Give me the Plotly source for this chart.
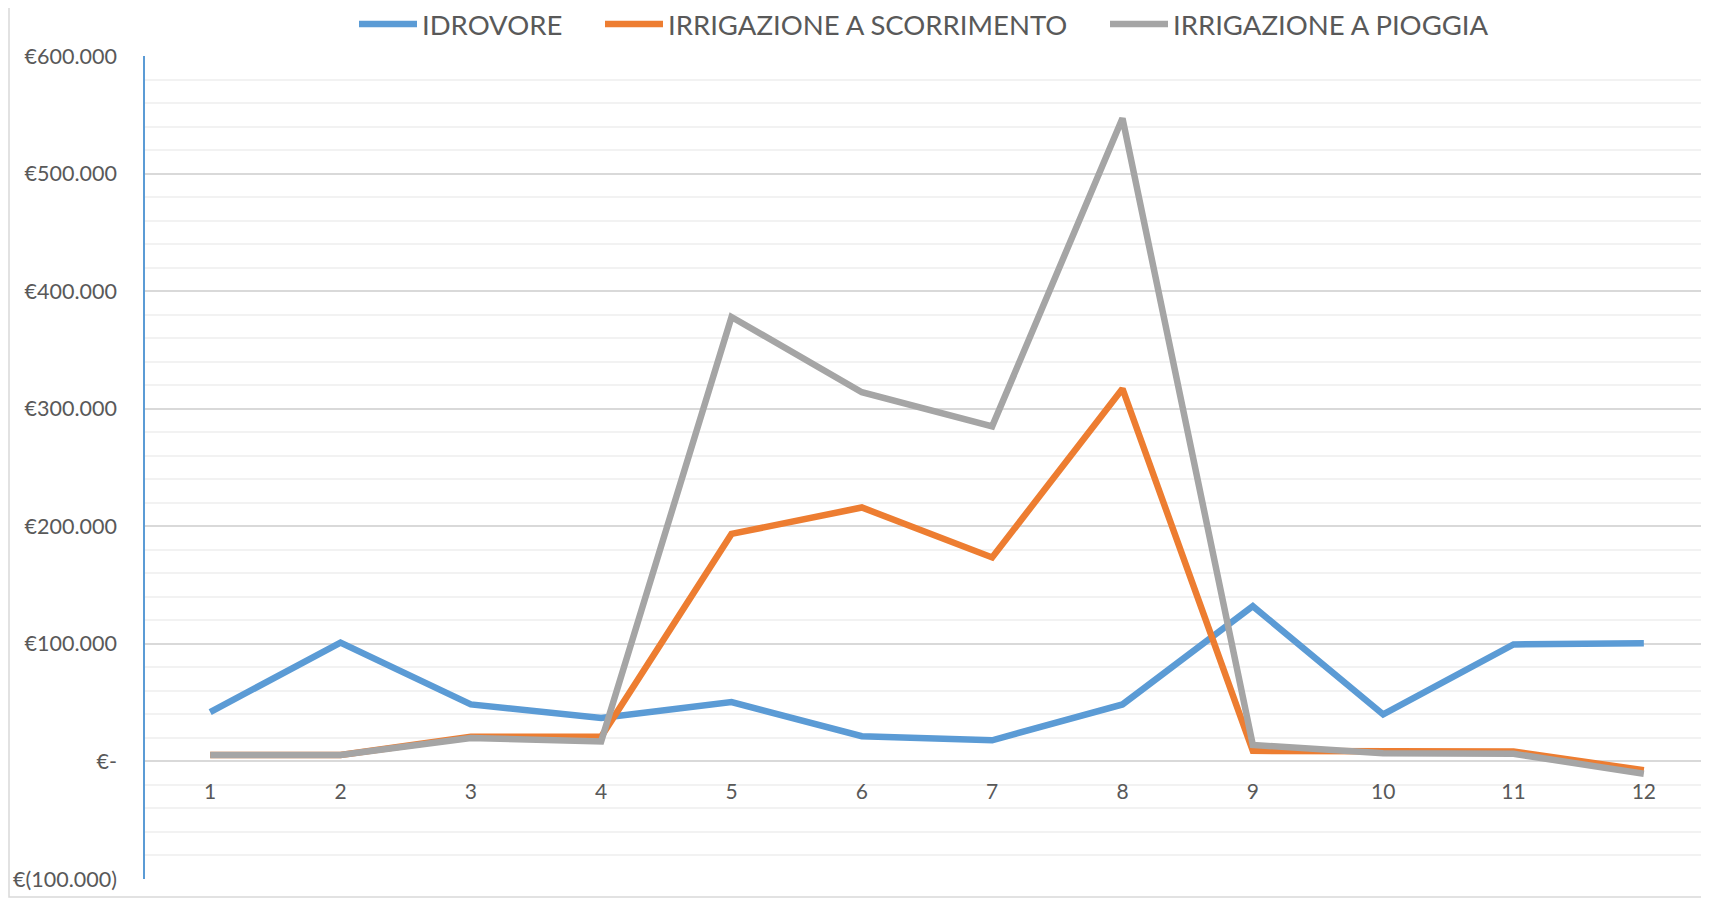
import plotly.graph_objects as go

months = [1, 2, 3, 4, 5, 6, 7, 8, 9, 10, 11, 12]
idrovore = [42000, 101000, 48500, 37000, 50500, 21500, 18000, 48500, 132000, 40000, 99500, 100500]
scorrimento = [5500, 5500, 21000, 21000, 193500, 216000, 173500, 317000, 9000, 8500, 8500, -7500]
pioggia = [5500, 5500, 20000, 17000, 378000, 314000, 285000, 547000, 14000, 7000, 6500, -10500]

series_names = ["IDROVORE", "IRRIGAZIONE A SCORRIMENTO", "IRRIGAZIONE A PIOGGIA"]
series_colors = ["#5B9BD5", "#ED7D31", "#A5A5A5"]

y_tick_vals = [-100000, 0, 100000, 200000, 300000, 400000, 500000, 600000]
y_tick_text = ["€(100.000)", "€-", "€100.000", "€200.000", "€300.000", "€400.000", "€500.000", "€600.000"]

FONT = "Lato, 'Open Sans', sans-serif"
TXT = "#595959"

# page body adds an 8px offset
OFF = 8
W, H = 1709 - OFF, 898 - OFF
L, R, T, B = 145 - OFF, 0, 56 - OFF, 19
pw, ph = W - L - R, H - T - B

legend_ids = ["legend", "legend2", "legend3"]
legend_line_start = [366, 612, 1117]  # page px where each legend sample starts

fig = go.Figure()
for name, vals, col, lid in zip(series_names, [idrovore, scorrimento, pioggia], series_colors, legend_ids):
    fig.add_trace(go.Scatter(
        x=months, y=vals, name=name, mode="lines",
        line=dict(color=col, width=6.5), legend=lid,
    ))

leg_y = 1 + (T - (24 - OFF)) / ph
legends = {}
for lid, xs in zip(legend_ids, legend_line_start):
    legends[lid] = dict(
        orientation="h", x=(xs - OFF - 12 - L) / pw, xanchor="left",
        y=leg_y, yanchor="middle",
        font=dict(size=27.5, color=TXT, family=FONT),
        itemwidth=58, bgcolor="rgba(0,0,0,0)",
    )

fig.update_layout(
    width=W, height=H,
    margin=dict(l=L, r=R, t=T, b=B, autoexpand=False),
    paper_bgcolor="white", plot_bgcolor="white",
    font=dict(family=FONT, color=TXT, size=21),
    showlegend=True,
    xaxis=dict(
        range=[0.5, 12.5], tickmode="array", tickvals=months,
        ticktext=[str(m) for m in months],
        showgrid=False, zeroline=False, showline=False, ticks="",
        anchor="free", position=1 / 7,
        tickfont=dict(size=21, color=TXT, family=FONT),
        ticklabelstandoff=16,
    ),
    yaxis=dict(
        range=[-100000, 600000], tickmode="array",
        tickvals=y_tick_vals, ticktext=y_tick_text,
        showgrid=True, gridcolor="#D9D9D9", gridwidth=1.5,
        zeroline=False, showline=True, linecolor="#5B9BD5", linewidth=1.5,
        ticks="", ticklabelstandoff=22,
        tickfont=dict(size=21.5, color=TXT, family=FONT),
        minor=dict(dtick=20000, tick0=0, showgrid=True, gridcolor="#F2F2F2", gridwidth=1.5),
    ),
    shapes=[
        dict(type="rect", xref="paper", yref="paper",
             x0=(1 - L) / pw, x1=1.05, y0=-(B - 1) / ph, y1=1.2,
             line=dict(color="#D9D9D9", width=1.5), fillcolor="rgba(0,0,0,0)", layer="below"),
    ],
    **legends,
)

fig.write_html("out.html")
